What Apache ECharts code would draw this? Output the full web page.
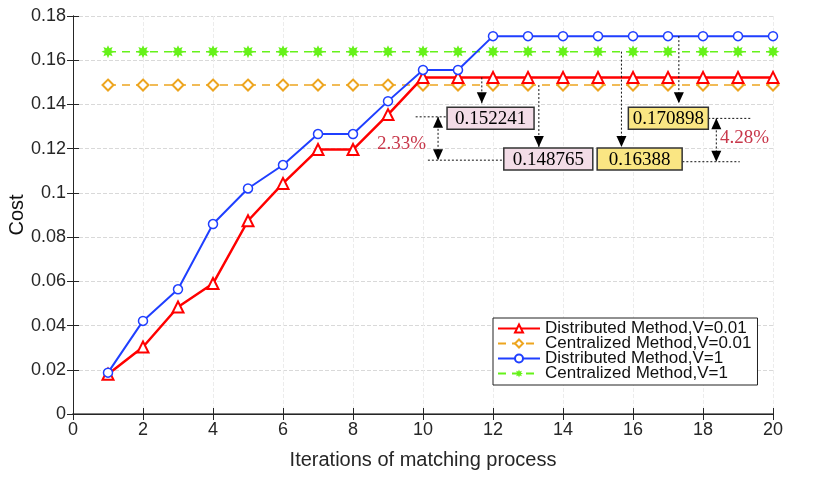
<!DOCTYPE html>
<html>
<head>
<meta charset="utf-8">
<script src="https://cdn.jsdelivr.net/npm/echarts@6/dist/echarts.min.js"></script>
<style>
  html, body { margin: 0; padding: 0; background: #fff; }
  #chart { width: 830px; height: 481px; }
</style>
</head>
<body>
<div id="chart"></div>
<script>
// chart data
var iterations = [1, 2, 3, 4, 5, 6, 7, 8, 9, 10, 11, 12, 13, 14, 15, 16, 17, 18, 19, 20];
var distV001 = [0.0180, 0.0303, 0.0484, 0.0590, 0.0874, 0.1043, 0.1196, 0.1196, 0.1354, 0.152241,
  0.152241, 0.152241, 0.152241, 0.152241, 0.152241, 0.152241, 0.152241, 0.152241, 0.152241, 0.152241];
var centV001 = [0.148765, 0.148765, 0.148765, 0.148765, 0.148765, 0.148765, 0.148765, 0.148765, 0.148765, 0.148765,
  0.148765, 0.148765, 0.148765, 0.148765, 0.148765, 0.148765, 0.148765, 0.148765, 0.148765, 0.148765];
var distV1 = [0.0187, 0.0421, 0.0564, 0.0859, 0.1020, 0.1126, 0.1266, 0.1266, 0.1415, 0.1556,
  0.1556, 0.170898, 0.170898, 0.170898, 0.170898, 0.170898, 0.170898, 0.170898, 0.170898, 0.170898];
var centV1 = [0.16388, 0.16388, 0.16388, 0.16388, 0.16388, 0.16388, 0.16388, 0.16388, 0.16388, 0.16388,
  0.16388, 0.16388, 0.16388, 0.16388, 0.16388, 0.16388, 0.16388, 0.16388, 0.16388, 0.16388];
var seriesNames = ['Distributed Method,V=0.01', 'Centralized Method,V=0.01', 'Distributed Method,V=1', 'Centralized Method,V=1'];

// annotation boxes (data coords) and labels
var boxLabels = ['0.152241', '0.148765', '0.16388', '0.170898'];
var boxCenters = [[11.93, 0.1338], [13.58, 0.1153], [16.19, 0.1153], [17.01, 0.1338]];
var gapLabels = ['2.33%', '4.28%'];

function pairs(ys) {
  return ys.map(function (y, i) { return [iterations[i], y]; });
}

// 8-point asterisk marker
function starPath() {
  var pts = [];
  for (var i = 0; i < 16; i++) {
    var r = i % 2 === 0 ? 10 : 5.5;
    var a = Math.PI * i / 8 - Math.PI / 2;
    pts.push((10 + r * Math.cos(a)).toFixed(2) + ' ' + (10 + r * Math.sin(a)).toFixed(2));
  }
  return 'path://M' + pts.join(' L') + ' Z';
}

var axisFont = { fontFamily: 'Liberation Sans', fontSize: 18, color: '#262626', margin: 7 };

var chart = echarts.init(document.getElementById('chart'));
var option = {
  animation: false,
  backgroundColor: '#fff',
  grid: { left: 73, right: 57, top: 16, bottom: 67, outerBoundsMode: 'none', containLabel: false },
  legend: {
    orient: 'vertical',
    left: 493, top: 318,
    itemGap: -2,
    itemWidth: 42, itemHeight: 10,
    padding: [2, 6, 3, 4],
    borderColor: '#222', borderWidth: 1,
    backgroundColor: '#fff',
    textStyle: { fontFamily: 'Liberation Sans', fontSize: 17, color: '#111', lineHeight: 15 },
    data: seriesNames
  },
  xAxis: [{
    type: 'value', min: 0, max: 20, interval: 2,
    name: 'Iterations of matching process', nameLocation: 'middle', nameGap: 36,
    nameTextStyle: { fontFamily: 'Liberation Sans', fontSize: 20, color: '#262626' },
    axisLine: { lineStyle: { color: '#808080', width: 2 } },
    axisTick: { inside: true, length: 6, lineStyle: { color: '#262626' } },
    axisLabel: axisFont,
    splitLine: { show: true, lineStyle: { type: 'dashed', color: '#ececec' } }
  }, {
    type: 'value', min: 0, max: 20, interval: 2, position: 'top',
    axisLine: { lineStyle: { color: '#262626' } },
    axisTick: { inside: true, length: 6, lineStyle: { color: '#262626' } },
    axisLabel: { show: false }, splitLine: { show: false }
  }],
  yAxis: [{
    type: 'value', min: 0, max: 0.18, interval: 0.02,
    name: 'Cost', nameLocation: 'middle', nameGap: 46, nameMoveOverlap: false,
    nameTextStyle: { fontFamily: 'Liberation Sans', fontSize: 20, color: '#111' },
    axisLine: { show: true, lineStyle: { color: '#262626' } },
    axisTick: { show: true, inside: true, length: 6, lineStyle: { color: '#262626' } },
    axisLabel: axisFont,
    splitLine: { show: true, lineStyle: { type: 'dashed', color: '#d9d9d9' } }
  }, {
    type: 'value', min: 0, max: 0.18, interval: 0.02, position: 'right',
    axisLine: { show: true, lineStyle: { color: '#262626' } },
    axisTick: { show: true, inside: true, length: 6, lineStyle: { color: '#262626' } },
    axisLabel: { show: false }, splitLine: { show: false }
  }],
  series: [{
    name: seriesNames[1], type: 'line', data: pairs(centV001), z: 2,
    symbol: 'diamond', symbolSize: 11,
    itemStyle: { color: '#fff', borderColor: '#EDA51F', borderWidth: 2 },
    lineStyle: { color: '#EDA51F', width: 1.5, type: [8, 6] },
    color: '#EDA51F'
  }, {
    name: seriesNames[3], type: 'line', data: pairs(centV1), z: 2,
    symbol: starPath(), symbolSize: 13,
    itemStyle: { color: '#66F21A' },
    lineStyle: { color: '#66F21A', width: 1.5, type: [8, 6] },
    color: '#66F21A'
  }, {
    name: seriesNames[0], type: 'line', data: pairs(distV001), z: 3,
    symbol: 'triangle', symbolSize: 11,
    itemStyle: { color: '#fff', borderColor: '#FF0000', borderWidth: 2 },
    lineStyle: { color: '#FF0000', width: 2.5 },
    color: '#FF0000'
  }, {
    name: seriesNames[2], type: 'line', data: pairs(distV1), z: 3,
    symbol: 'circle', symbolSize: 9,
    itemStyle: { color: '#fff', borderColor: '#1F3FFF', borderWidth: 1.5 },
    lineStyle: { color: '#1F3FFF', width: 2 },
    color: '#1F3FFF'
  }]
};
chart.setOption(option);

function px(x, y) { return chart.convertToPixel({ xAxisIndex: 0, yAxisIndex: 0 }, [x, y]); }

var els = [];
function dotted(a, b) {
  var p = px(a[0], a[1]), q = px(b[0], b[1]);
  els.push({ type: 'line', z: 50, shape: { x1: p[0], y1: p[1], x2: q[0], y2: q[1] },
    style: { stroke: '#111', lineWidth: 1, lineDash: [2, 2] } });
}
function head(tip, dir) {
  // dir 1 = pointing down, -1 = pointing up
  var t = px(tip[0], tip[1]);
  els.push({ type: 'polygon', z: 51, shape: { points: [[t[0], t[1]], [t[0] - 5, t[1] - 11 * dir], [t[0] + 5, t[1] - 11 * dir]] },
    style: { fill: '#000' } });
}
function arrowDown(x, yFrom, yTo) {
  dotted([x, yFrom], [x, yTo]);
  head([x, yTo], 1);
}
function dblArrow(x, yTop, yBot) {
  dotted([x, yTop], [x, yBot]);
  head([x, yTop], -1);
  head([x, yBot], 1);
}

arrowDown(11.68, 0.152241, 0.1405);
arrowDown(13.31, 0.148765, 0.1208);
arrowDown(15.67, 0.16388, 0.1208);
arrowDown(17.31, 0.170898, 0.1405);

dblArrow(10.43, 0.1344, 0.1148);
dotted([9.79, 0.1344], [10.69, 0.1344]);
dotted([10.14, 0.1148], [12.31, 0.1148]);
dblArrow(18.38, 0.1337, 0.1141);
dotted([18.15, 0.1337], [19.38, 0.1337]);
dotted([17.41, 0.1141], [19.05, 0.1141]);

var boxFills = ['#F3DCE7', '#F3DCE7', '#FAE683', '#FAE683'];
var boxWidths = [87, 89, 85, 80];
boxLabels.forEach(function (label, i) {
  var c = px(boxCenters[i][0], boxCenters[i][1]);
  var w = boxWidths[i], h = 22;
  els.push({ type: 'rect', z: 52, shape: { x: c[0] - w / 2, y: c[1] - h / 2, width: w, height: h },
    style: { fill: boxFills[i], stroke: '#333', lineWidth: 1.5 } });
  els.push({ type: 'text', z: 53, x: c[0], y: c[1] + 1,
    style: { text: label, fill: '#000', font: '19px "Liberation Serif"', align: 'center', verticalAlign: 'middle' } });
});

var gapPos = [[9.39, 0.1221], [19.19, 0.1248]];
gapLabels.forEach(function (label, i) {
  var c = px(gapPos[i][0], gapPos[i][1]);
  els.push({ type: 'text', z: 53, x: c[0], y: c[1],
    style: { text: label, fill: '#C8374A', font: '19px "Liberation Serif"', align: 'center', verticalAlign: 'middle' } });
});

chart.setOption({ graphic: els });
</script>
</body>
</html>
